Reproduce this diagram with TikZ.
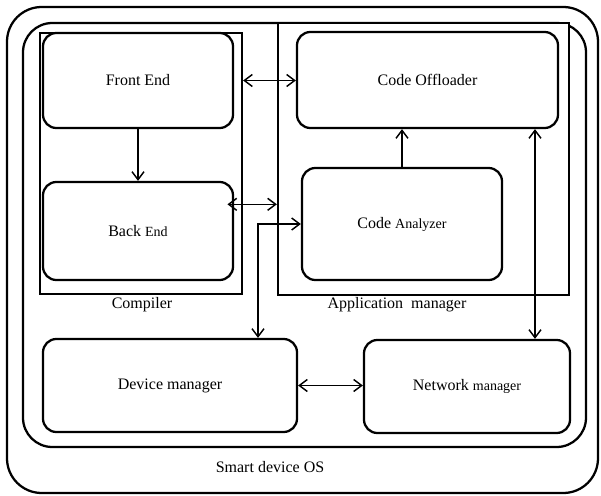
\documentclass[tikz,border=0pt]{standalone}
\usepackage{fontspec}
\setmainfont{Liberation Serif}
\usetikzlibrary{arrows.meta}
\newcommand{\sm}[1]{{\fontsize{10.5}{12}\selectfont #1}}
\begin{document}
\begin{tikzpicture}[x=0.75pt,y=-0.75pt,
  font=\fontsize{12}{14}\selectfont,
  box/.style={draw, line width=1.7pt, rounded corners=10pt, fill=white, inner sep=0pt},
  frame/.style={draw, line width=1.7pt, fill=white, inner sep=0pt},
  conn/.style={line width=1.1pt, {Straight Barb[length=6pt,width=9pt]}-{Straight Barb[length=6pt,width=9pt]}},
  arr/.style={line width=1.1pt, -{Straight Barb[length=6pt,width=9pt]}}]
\useasboundingbox (0,0) rectangle (601,496);
% outer OS frame
\draw[line width=1.7pt, rounded corners=26pt] (7,7) rectangle (598,493);
% middle frame
\draw[line width=1.7pt, rounded corners=22pt] (23,23) rectangle (586,447);
% group frames
\node[frame, minimum width=218.25pt, minimum height=204pt] (am) at (423.5,159) {};
\node[frame, minimum width=151.5pt, minimum height=195.75pt] (comp) at (141,163.5) {};
% boxes
\node[box, minimum width=142.5pt, minimum height=71.25pt] (fe) at (138,80.5) {Front End};
\node[box, minimum width=142.5pt, minimum height=73.5pt] (be) at (138,231) {Back \sm{End}};
\node[box, minimum width=195.75pt, minimum height=72pt] (co) at (427.5,80) {Code Offloader};
\node[box, minimum width=150pt, minimum height=84pt] (ca) at (402,224) {Code \sm{Analyzer}};
\node[box, minimum width=190.5pt, minimum height=69.75pt] (dm) at (170,385.5) {Device manager};
\node[box, minimum width=154.5pt, minimum height=69.75pt] (nm) at (467,386.5) {Network \sm{manager}};
% labels
\node (lc) at (142,305) {Compiler};
\node (la) at (397,305) {Application\ \ manager};
\node (lo) at (270,467) {Smart device OS};
% connectors
\draw[conn] (comp.east |- fe.east) -- (co.west |- fe.east);
\draw[arr] (fe.south) -- (be.north);
\coordinate (bea) at ([xshift=-5pt,yshift=20pt]be.east);
\draw[conn] (bea) -- (bea -| am.west);
\coordinate (dmt) at ([xshift=66pt]dm.north);
\draw[conn] (dmt) |- (ca.west);
\draw[arr] (ca.north) -- (ca.north |- co.south);
\coordinate (nmt) at ([xshift=51pt]nm.north);
\draw[conn] (nmt) -- (nmt |- co.south);
\draw[conn] (dm.east) -- (dm.east -| nm.west);
\end{tikzpicture}
\end{document}
